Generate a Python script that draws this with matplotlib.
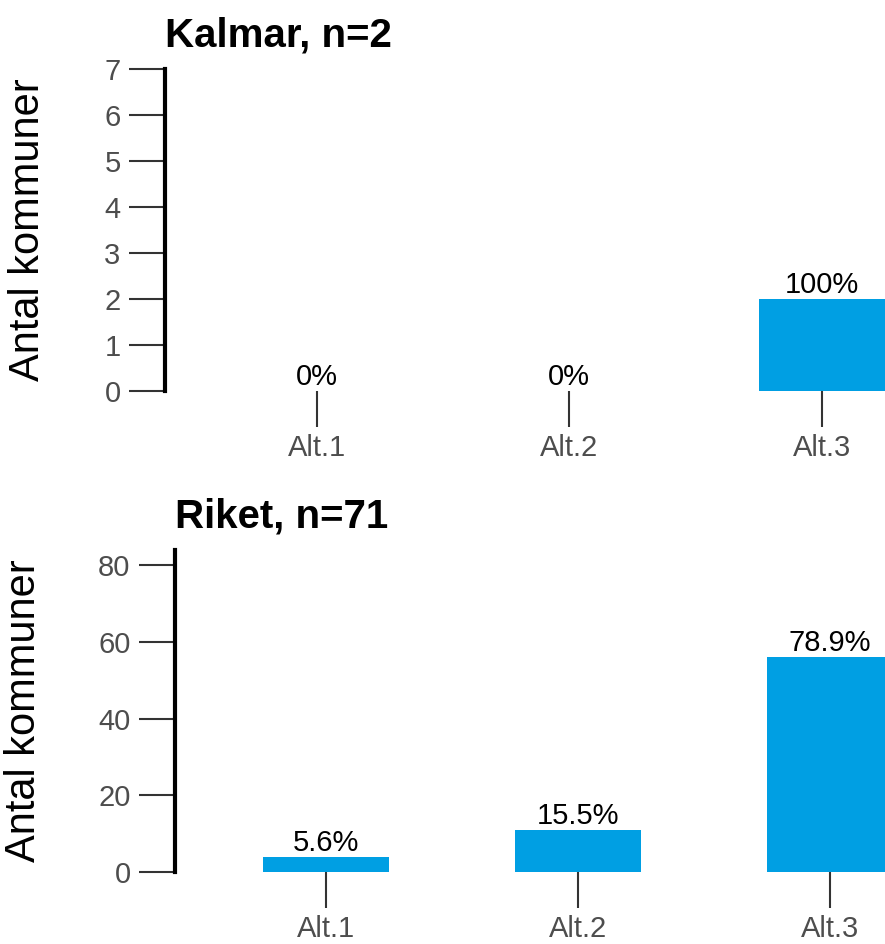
import matplotlib
matplotlib.use("Agg")
import matplotlib.pyplot as plt

plt.rcParams.update({'font.family': ['Liberation Sans', 'DejaVu Sans']})

BLUE = "#009FE3"; GREY = "#4D4D4D"; TICK = "#333333"

categories = ["Alt.1", "Alt.2", "Alt.3"]
kalmar_counts = [0, 0, 2]
kalmar_pct = ["0%", "0%", "100%"]
riket_counts = [4, 11, 56]
riket_pct = ["5.6%", "15.5%", "78.9%"]

W, H = 885, 944
fig = plt.figure(figsize=(W/100, H/100), dpi=100)
fig.patch.set_facecolor('white')

def panel(rect, counts, pcts, title, ymax, yticks, xmax, ylab_x):
    ax = fig.add_axes(rect)
    x = list(range(len(categories)))
    ax.bar(x, counts, width=0.5, color=BLUE, zorder=2)
    for xi, c, p in zip(x, counts, pcts):
        ax.annotate(p, (xi, c), xytext=(0, 4.3), textcoords='offset points',
                    ha='center', va='baseline', fontsize=21, color='black')
    ax.set_xlim(-0.6, xmax)
    ax.set_ylim(0, ymax)
    ax.set_xticks(x)
    ax.set_xticklabels(categories)
    ax.set_yticks(yticks)
    for s in ['top', 'right', 'bottom']:
        ax.spines[s].set_visible(False)
    ax.spines['left'].set_linewidth(3)
    ax.spines['left'].set_color('black')
    ax.tick_params(axis='both', length=26, width=1.5, color=TICK, labelcolor=GREY,
                   labelsize=21)
    ax.tick_params(axis='x', pad=5)
    ax.tick_params(axis='y', pad=6)
    ax.set_ylabel("Antal kommuner", fontsize=30, color='black')
    ax.yaxis.set_label_coords(ylab_x, 0.5)
    ax.set_title(title, loc='left', fontsize=29, fontweight='bold', pad=16)
    return ax

panel([165/W, 1 - 391/H, (W-165)/W, 322/H], kalmar_counts, kalmar_pct,
      "Kalmar, n=2", 7, range(0, 8), 2.25, -0.162)
panel([175/W, 1 - 872/H, (W-175)/W, 322/H], riket_counts, riket_pct,
      "Riket, n=71", 84, [0, 20, 40, 60, 80], 2.22, -0.184)

fig.savefig("out.png", dpi=100, facecolor='white')
